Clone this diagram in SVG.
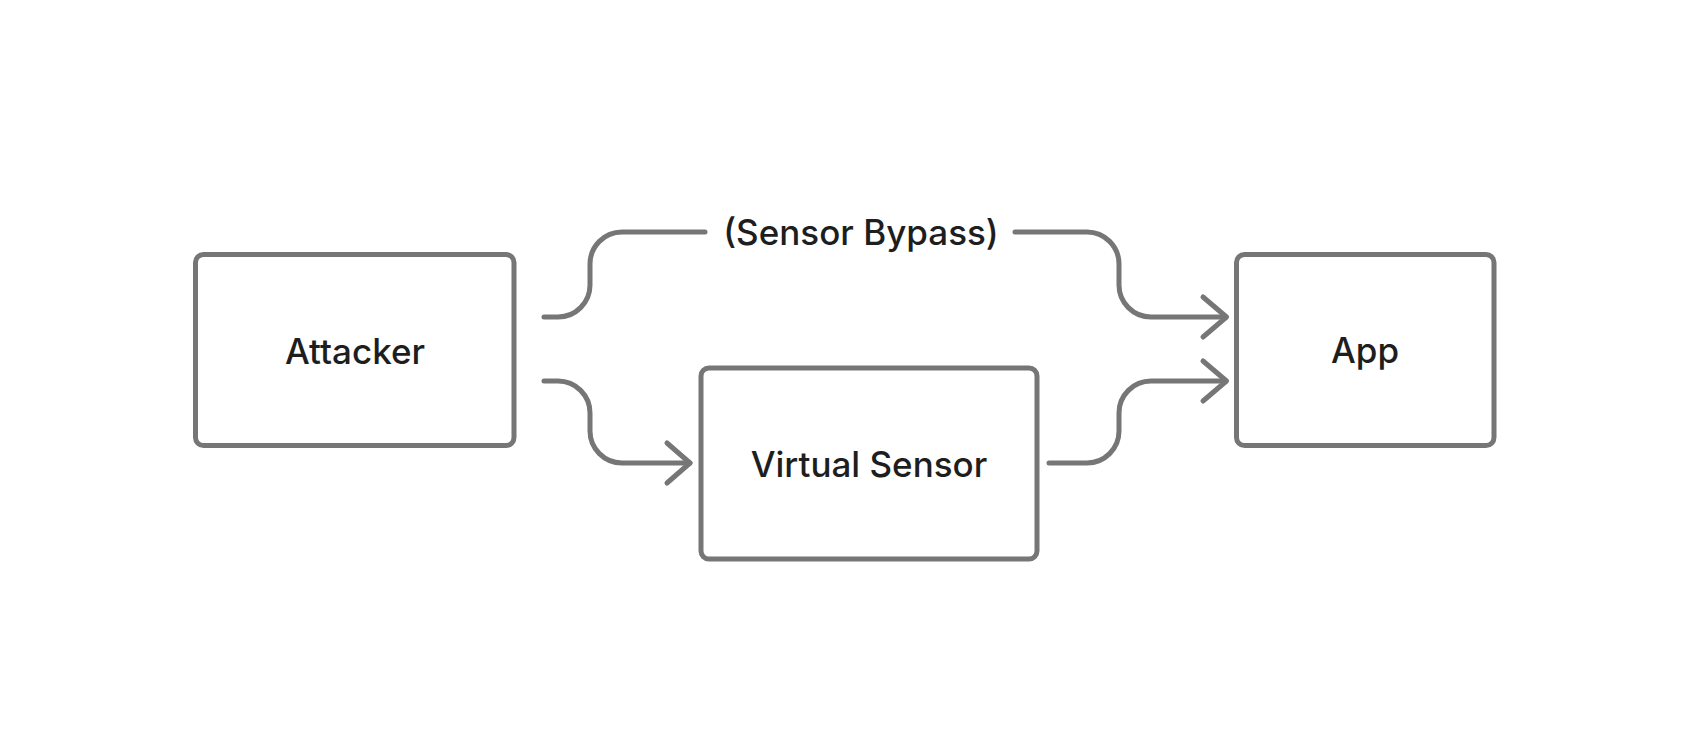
<svg xmlns="http://www.w3.org/2000/svg" width="1690" height="756" viewBox="0 0 1690 756">
  <style>
    .box { fill: #ffffff; stroke: #767676; stroke-width: 5; }
    .edge { fill: none; stroke: #767676; stroke-width: 5; stroke-linecap: round; stroke-linejoin: round; }
    .label { font-family: Inter, "Liberation Sans", sans-serif; font-size: 35px; font-weight: 500; fill: #1e1e1e; text-anchor: middle; }
  </style>
  <rect width="1690" height="756" fill="#ffffff"/>
  <g id="connectors">
    <path class="edge" d="M544,317 H558 A32,32 0 0 0 590,285 V264 A32,32 0 0 1 622,232 H705"/>
    <path class="edge" d="M1015,232 H1087 A32,32 0 0 1 1119,264 V285 A32,32 0 0 0 1151,317 H1226"/>
    <path class="edge" d="M1203,297 L1226.5,317 L1203,337"/>
    <text class="label" x="861" y="245">(Sensor Bypass)</text>
    <path class="edge" d="M544,381 H558 A32,32 0 0 1 590,413 V431 A32,32 0 0 0 622,463 H690"/>
    <path class="edge" d="M667,443 L690,463 L667,483"/>
    <path class="edge" d="M1049,463 H1087 A32,32 0 0 0 1119,431 V413 A32,32 0 0 1 1151,381 H1226"/>
    <path class="edge" d="M1203,361 L1226.5,381 L1203,401"/>
  </g>
  <g id="attacker">
    <rect class="box" x="195.5" y="254.5" width="318.5" height="191" rx="8"/>
    <text class="label" x="355" y="364">Attacker</text>
  </g>
  <g id="virtual-sensor">
    <rect class="box" x="701" y="368" width="336" height="191" rx="8"/>
    <text class="label" x="869" y="476.5">Virtual Sensor</text>
  </g>
  <g id="app">
    <rect class="box" x="1236.5" y="254.5" width="257.5" height="191" rx="8"/>
    <text class="label" x="1365" y="363">App</text>
  </g>
</svg>
